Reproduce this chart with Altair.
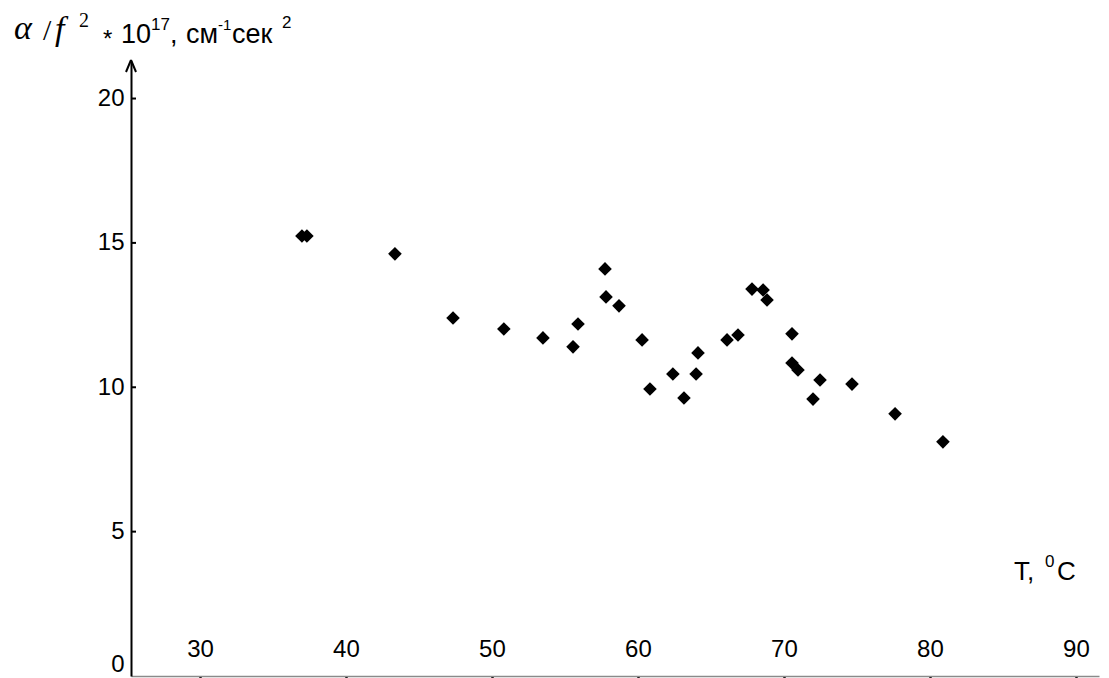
import altair as alt
import pandas as pd

# Data
temps = [36.95, 37.29, 43.32, 47.30, 50.78, 53.46, 55.52, 55.86, 57.71, 57.78,
         58.67, 60.25, 60.79, 62.36, 63.12, 63.95, 64.08, 66.07, 66.82, 67.78,
         68.54, 68.81, 70.52, 70.52, 70.93, 71.96, 72.44, 74.63, 77.58, 80.86]
values = [15.24, 15.24, 14.62, 12.40, 12.02, 11.71, 11.40, 12.19, 14.10, 13.13,
          12.82, 11.64, 9.94, 10.46, 9.63, 10.46, 11.19, 11.64, 11.81, 13.40,
          13.37, 13.02, 11.85, 10.84, 10.60, 9.59, 10.25, 10.11, 9.08, 8.11]
x_ticks = [30, 40, 50, 60, 70, 80, 90]
y_ticks = [0, 5, 10, 15, 20]
y_inner_ticks = [5, 10, 15, 20]

SANS = "Liberation Sans, Arial, sans-serif"
SERIF = "Liberation Serif, Times New Roman, serif"

W, H = 968, 615
OX, OY = 131, 61  # page position of plot origin (for annotations)

xscale = alt.Scale(domain=[25.24, 91.55], nice=False, zero=False)
yscale = alt.Scale(domain=[0, 21.3], nice=False, zero=False)

pts = pd.DataFrame({"T": temps, "V": values})

points = alt.Chart(pts).mark_point(
    shape="diamond", filled=True, color="black", size=185, opacity=1
).encode(
    x=alt.X("T:Q", scale=xscale,
            axis=alt.Axis(values=x_ticks, labels=False, title=None, grid=False,
                          domainColor="#8a8a8a", domainWidth=1.5,
                          tickColor="black", tickSize=5, tickWidth=2.5)),
    y=alt.Y("V:Q", scale=yscale,
            axis=alt.Axis(values=y_ticks, title=None, grid=False, ticks=False,
                          domainColor="black", domainWidth=2,
                          labelFont=SANS, labelFontSize=24, labelColor="#000",
                          labelPadding=7, labelFlush=True)),
)

xlab = alt.Chart(pd.DataFrame({"t": x_ticks})).mark_text(
    font=SANS, fontSize=24, color="#000", align="center", baseline="middle"
).encode(
    x=alt.X("t:Q", scale=xscale),
    y=alt.value(650 - OY),
    text=alt.Text("t:Q"),
)

yinner = alt.Chart(pd.DataFrame({"v": y_inner_ticks})).mark_rule(
    color="black", strokeWidth=2
).encode(
    y=alt.Y("v:Q", scale=yscale),
    x=alt.value(0),
    x2=alt.value(5),
)

one = pd.DataFrame({"a": [0]})

arrow_l = alt.Chart(one).mark_rule(color="black", strokeWidth=2).encode(
    x=alt.value(0), y=alt.value(-1), x2=alt.value(-5), y2=alt.value(11))
arrow_r = alt.Chart(one).mark_rule(color="black", strokeWidth=2).encode(
    x=alt.value(0), y=alt.value(-1), x2=alt.value(5), y2=alt.value(11))


def txt(s, px, py, font=SANS, size=27, style="normal"):
    return alt.Chart(one).mark_text(
        font=font, fontSize=size, fontStyle=style, color="#000",
        align="left", baseline="alphabetic"
    ).encode(x=alt.value(px - OX), y=alt.value(py - OY), text=alt.value(s))


title_parts = [
    txt("α", 14, 39, SERIF, 34, "italic"),
    txt("/", 43, 40, SERIF, 30),
    txt("f", 55, 40, SERIF, 34, "italic"),
    txt("2", 79, 27, SERIF, 20),
    txt("*", 103, 47, SANS, 24),
    txt("10", 121, 43, SANS, 27),
    txt("17", 151, 30, SANS, 17),
    txt(",", 170, 43, SANS, 27),
    txt("см", 186, 43, SANS, 27),
    txt("-1", 218, 30, SANS, 15),
    txt("сек", 232, 43, SANS, 27),
    txt("2", 282, 28, SANS, 17),
    txt("T,", 1014, 580, SANS, 26),
    txt("0", 1045, 567, SANS, 17),
    txt("C", 1057, 580, SANS, 26),
]

chart = alt.layer(
    yinner, arrow_l, arrow_r, xlab, points, *title_parts
).properties(
    width=W, height=H,
    padding={"left": 123, "top": 53, "right": 2, "bottom": 8},
    autosize=alt.AutoSizeParams(type="none"),
    background="white",
).configure_view(stroke=None)

chart.save("out.html", embed_options={"renderer": "svg", "actions": False})
